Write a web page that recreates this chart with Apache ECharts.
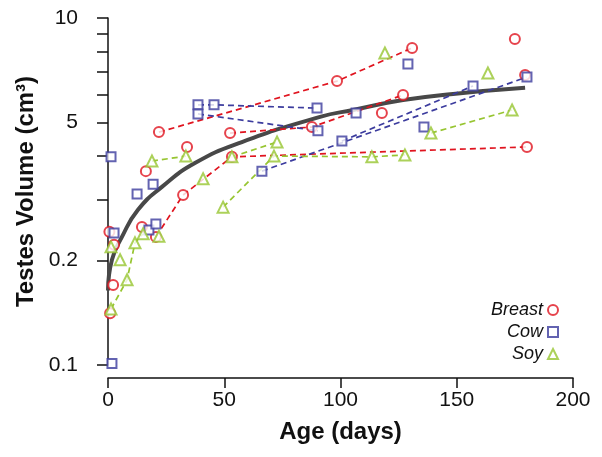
<!DOCTYPE html>
<html>
<head>
<meta charset="utf-8">
<script src="https://cdn.jsdelivr.net/npm/echarts@6/dist/echarts.min.js"></script>
<style>
  html, body { margin: 0; padding: 0; background: #fff; }
  #chart { width: 602px; height: 457px; }
</style>
</head>
<body>
<div id="chart"></div>
<script>
// values: [age in days, volume on the plotted scale]
const breastPoints = [
    [0.6, 2.42], [0.9, 1.41], [2.2, 1.70], [2.6, 2.22], [14.6, 2.50],
    [16.3, 3.62], [20.6, 2.34], [21.9, 4.69], [32.3, 3.09], [34.0, 4.25],
    [52.5, 4.66], [53.3, 3.98], [87.7, 4.85], [98.5, 6.58], [117.8, 5.32],
    [126.9, 6.00], [130.8, 8.20], [175.0, 8.70], [179.4, 6.85], [180.2, 4.25]
];
const cowPoints = [
    [1.3, 3.98], [1.7, 1.01], [2.6, 2.40], [12.5, 3.11], [17.6, 2.45],
    [19.4, 3.32], [20.6, 2.55], [38.7, 5.62], [38.7, 5.29], [45.6, 5.62],
    [66.2, 3.62], [89.9, 5.50], [90.3, 4.73], [100.6, 4.42], [106.7, 5.32],
    [129.0, 7.37], [135.9, 4.85], [157.0, 6.37], [180.2, 6.76]
];
const soyPoints = [
    [1.3, 1.45], [1.3, 2.19], [5.2, 2.01], [8.2, 1.76], [11.6, 2.25],
    [15.1, 2.39], [18.9, 3.87], [21.9, 2.35], [33.5, 4.00], [40.9, 3.44],
    [49.5, 2.85], [53.3, 3.98], [71.4, 4.00], [72.7, 4.39], [113.5, 3.98],
    [119.1, 7.93], [127.7, 4.03], [138.9, 4.66], [163.4, 6.94], [173.8, 5.43]
];

// dashed lines joining repeated measurements (indexes into the point lists)
const breastTracks = [[7, 13, 16], [10, 12, 15], [6, 8, 11, 19]];
const cowTracks = [[7, 9, 11], [8, 12], [10, 18], [13, 17]];
const soyTracks = [[0, 3, 4, 5], [6, 8], [10, 12, 14, 16], [11, 13], [17, 19]];

// thick fitted curve
const fitCurve = [
    [0, 1.64], [1.7, 2.01], [6, 2.34], [12.9, 2.80], [23.2, 3.26], [37.4, 3.82],
    [57.6, 4.39], [91.2, 5.19], [105.4, 5.43], [126.9, 5.80], [148.4, 6.04], [179.4, 6.29]
];

const xTicks = [0, 50, 100, 150, 200];
const yTickValues = [1, 2, 3, 4, 5, 6, 7, 8, 9, 10];
const yLabelValues = [1, 2, 5, 10];
const yLabelTexts = ['0.1', '0.2', '5', '10'];

const RED = '#e0141f';
const BLUE = '#3c3c9e';
const GREEN = '#97c531';
const FONT = 'Liberation Sans, Arial, Helvetica, sans-serif';

const chart = echarts.init(document.getElementById('chart'));

const groups = [
    { name: 'Breast', points: breastPoints, tracks: breastTracks, color: RED, symbol: 'emptyCircle', size: 10 },
    { name: 'Cow', points: cowPoints, tracks: cowTracks, color: BLUE, symbol: 'emptyRect', size: 9 },
    { name: 'Soy', points: soyPoints, tracks: soyTracks, color: GREEN, symbol: 'emptyTriangle', size: 11 }
];

const series = [{
    type: 'line',
    data: fitCurve,
    smooth: true,
    showSymbol: false,
    silent: true,
    lineStyle: { color: '#484848', width: 4 },
    z: 1
}];

groups.forEach(function(g) {
    g.tracks.forEach(function(track) {
        series.push({
            type: 'line',
            data: track.map(function(i) { return g.points[i]; }),
            showSymbol: false,
            silent: true,
            lineStyle: { color: g.color, width: 1.7, type: [6, 4] },
            z: 2
        });
    });
});

groups.forEach(function(g) {
    series.push({
        name: g.name,
        type: 'scatter',
        data: g.points,
        symbol: g.symbol,
        symbolSize: g.size,
        itemStyle: { color: g.color, borderWidth: 1.8 },
        z: 3
    });
});

const option = {
    animation: false,
    backgroundColor: '#fff',
    textStyle: { fontFamily: FONT },
    grid: { left: 108, right: 29, top: 18, bottom: 92 },
    legend: {
        data: groups.map(function(g) { return g.name; }),
        orient: 'vertical',
        align: 'right',
        right: 38,
        top: 296,
        itemWidth: 10,
        itemHeight: 10,
        itemGap: 4,
        textStyle: { fontFamily: FONT, fontStyle: 'italic', fontSize: 18, color: '#111' }
    },
    xAxis: {
        type: 'value',
        min: 0,
        max: 200,
        interval: 50,
        offset: 13,
        name: 'Age (days)',
        nameLocation: 'middle',
        nameGap: 42,
        nameTextStyle: { fontFamily: FONT, fontSize: 24, fontWeight: 'bold', color: '#111' },
        axisLine: { lineStyle: { color: '#111', width: 1.5 } },
        axisTick: { length: 10, lineStyle: { color: '#111', width: 1.5 } },
        axisLabel: {
            fontSize: 21, color: '#111', margin: 12,
            customValues: xTicks
        },
        splitLine: { show: false }
    },
    yAxis: {
        type: 'log',
        logBase: 10,
        min: 1,
        max: 10,
        offset: 12,
        name: 'Testes Volume (cm³)',
        nameLocation: 'middle',
        nameRotate: 90,
        nameGap: 52,
        nameTextStyle: { fontFamily: FONT, fontSize: 24, fontWeight: 'bold', color: '#111' },
        axisLine: { show: true, lineStyle: { color: '#111', width: 1.5 } },
        axisTick: { show: true, length: 11, lineStyle: { color: '#111', width: 1.5 }, customValues: yTickValues },
        axisLabel: {
            fontSize: 21, color: '#111', margin: 18,
            customValues: yLabelValues,
            formatter: function(v) {
                const i = yLabelValues.findIndex(function(t) { return Math.abs(t - v) < 1e-6; });
                return i >= 0 ? yLabelTexts[i] : '';
            }
        },
        splitLine: { show: false },
        minorTick: { show: false }
    },
    series: series
};

chart.setOption(option);
</script>
</body>
</html>
